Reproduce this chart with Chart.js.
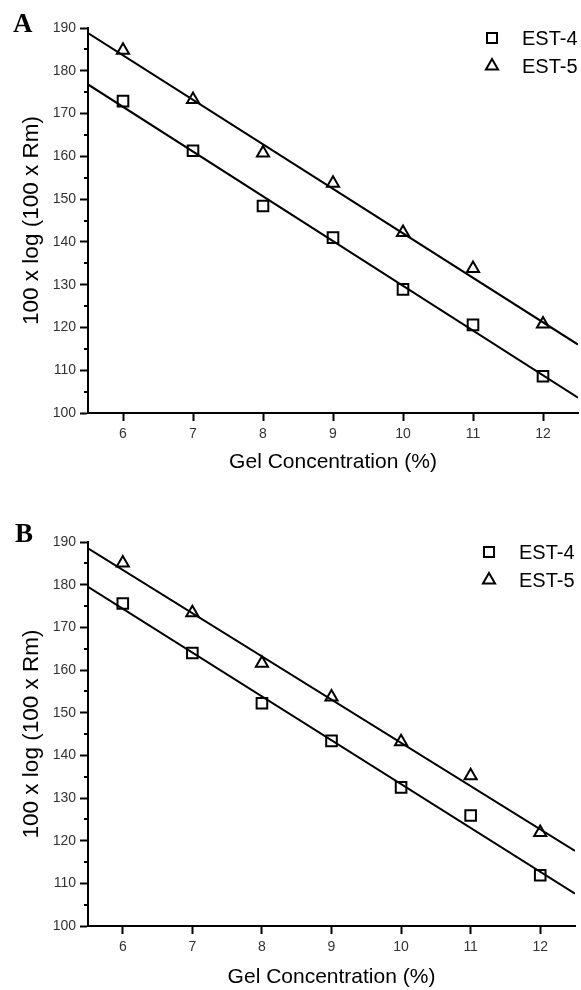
<!DOCTYPE html>
<html>
<head>
<meta charset="utf-8">
<script src="https://cdn.jsdelivr.net/npm/chart.js@4.4.1/dist/chart.umd.min.js"></script>
<style>
    html, body { margin: 0; background: #fff; overflow: hidden; }
    .panel { position: absolute; left: 0; width: 581px; }
    canvas { display: block; }
</style>
</head>
<body>
<div class="panel" style="top:0;height:490px"><canvas id="chartA"></canvas></div>
<div class="panel" style="top:490px;height:500px"><canvas id="chartB"></canvas></div>
<script>
// Data

let gelConc = [6, 7, 8, 9, 10, 11, 12];

let est4A = [172.9, 161.3, 148.4, 141.0, 128.9, 120.6, 108.6];
let est5A = [184.8, 173.3, 160.8, 153.7, 142.2, 133.8, 120.8];

let est4B = [175.6, 164.0, 152.2, 143.4, 132.5, 125.9, 111.9];
let est5B = [185.1, 173.4, 161.6, 153.7, 143.2, 135.2, 121.9];

// fitted lines, read at both ends of the x axis
let fitX = [5.5, 12.5];
let fit4A = [176.8, 103.6];
let fit5A = [188.8, 116.0];
let fit4B = [179.5, 107.6];
let fit5B = [188.5, 117.6];

let xTicks = [6, 7, 8, 9, 10, 11, 12];
let yMinorTicks = [105, 115, 125, 135, 145, 155, 165, 175, 185];

const sansFont = '"Liberation Sans", Arial, sans-serif';

function toPoints(xs, ys) {
    return xs.map((x, i) => ({ x: x, y: ys[i] }));
}

// minor ticks, panel letter and legend
const panelExtras = {
    id: 'panelExtras',
    afterDraw(chart, args, opts) {
        const { ctx, chartArea, scales } = chart;
        ctx.save();
        ctx.strokeStyle = '#000';
        ctx.lineWidth = 2;
        yMinorTicks.forEach(v => {
            let y = Math.round(scales.y.getPixelForValue(v));
            ctx.beginPath();
            ctx.moveTo(chartArea.left - 4, y);
            ctx.lineTo(chartArea.left, y);
            ctx.stroke();
        });

        ctx.fillStyle = '#000';
        ctx.font = 'bold 27px "Liberation Serif", "Times New Roman", serif';
        ctx.textBaseline = 'alphabetic';
        ctx.fillText(opts.letter, opts.letterX, opts.letterY);

        ctx.font = '20px ' + sansFont;
        ctx.textBaseline = 'middle';
        ctx.lineWidth = 2;
        let lx = chartArea.right - 86;
        let ly = chartArea.top + 10;
        chart.data.datasets.filter(ds => ds.inLegend).forEach((ds, i) => {
            let cy = ly + i * 28;
            ctx.beginPath();
            if (ds.pointStyle === 'rect') {
                ctx.rect(lx - 5, cy - 5, 10, 10);
            } else {
                let r = 7;
                ctx.moveTo(lx, cy - r);
                ctx.lineTo(lx + r * 0.866, cy + r / 2);
                ctx.lineTo(lx - r * 0.866, cy + r / 2);
                ctx.closePath();
            }
            ctx.stroke();
            ctx.fillText(ds.label, lx + 30, cy + 1);
        });
        ctx.restore();
    }
};

function makeChart(id, letter, est4, est5, fit4, fit5, layout) {
    let ctx = document.getElementById(id).getContext('2d');
    return new Chart(ctx, {
        type: 'scatter',
        data: {
            datasets: [
                {
                    label: 'EST-4',
                    inLegend: true,
                    data: toPoints(gelConc, est4),
                    pointStyle: 'rect',
                    pointRadius: 7.5,
                    pointBorderWidth: 2,
                    borderColor: '#000',
                    backgroundColor: 'rgba(0,0,0,0)'
                },
                {
                    label: 'EST-5',
                    inLegend: true,
                    data: toPoints(gelConc, est5),
                    pointStyle: 'triangle',
                    pointRadius: 7,
                    pointBorderWidth: 2,
                    borderColor: '#000',
                    backgroundColor: 'rgba(0,0,0,0)'
                },
                {
                    label: 'fit EST-4',
                    data: toPoints(fitX, fit4),
                    showLine: true,
                    borderColor: '#000',
                    borderWidth: 2,
                    pointRadius: 0
                },
                {
                    label: 'fit EST-5',
                    data: toPoints(fitX, fit5),
                    showLine: true,
                    borderColor: '#000',
                    borderWidth: 2,
                    pointRadius: 0
                }
            ]
        },
        options: {
            responsive: true,
            maintainAspectRatio: false,
            animation: false,
            layout: {
                autoPadding: false,
                padding: { top: layout.top, right: layout.right, left: 0, bottom: 0 }
            },
            scales: {
                x: {
                    type: 'linear',
                    min: 5.5,
                    max: 12.5,
                    afterBuildTicks: s => { s.ticks = xTicks.map(v => ({ value: v })); },
                    afterFit: s => {
                        s.height = layout.xHeight;
                        s.paddingLeft = 0;
                        s.paddingRight = 0;
                    },
                    ticks: {
                        padding: 5,
                        color: '#333',
                        font: { family: sansFont, size: 14 }
                    },
                    grid: { drawOnChartArea: false, tickLength: 8, tickWidth: 2, tickColor: '#000' },
                    border: { color: '#000', width: 2 },
                    title: {
                        display: true,
                        text: 'Gel Concentration (%)',
                        color: '#000',
                        font: { family: sansFont, size: 21 },
                        padding: { top: 0, bottom: layout.titleBottom }
                    }
                },
                y: {
                    min: 100,
                    max: 190,
                    afterFit: s => {
                        s.width = 88;
                        s.paddingTop = 0;
                        s.paddingBottom = 0;
                    },
                    ticks: {
                        stepSize: 10,
                        padding: 4,
                        color: '#333',
                        font: { family: sansFont, size: 14 }
                    },
                    grid: { drawOnChartArea: false, tickLength: 8, tickWidth: 2, tickColor: '#000' },
                    border: { color: '#000', width: 2 },
                    title: {
                        display: true,
                        text: '100 x log (100 x Rm)',
                        color: '#000',
                        font: { family: sansFont, size: 22.5 },
                        padding: { top: 18, bottom: 0 }
                    }
                }
            },
            plugins: {
                legend: { display: false },
                tooltip: { enabled: false },
                panelExtras: { letter: letter, letterX: layout.letterX, letterY: layout.letterY }
            }
        },
        plugins: [panelExtras]
    });
}

let chartA = makeChart('chartA', 'A', est4A, est5A, fit4A, fit5A,
    { top: 28, right: 3, xHeight: 77, titleBottom: 15, letterX: 13, letterY: 32 });
let chartB = makeChart('chartB', 'B', est4B, est5B, fit4B, fit5B,
    { top: 52, right: 6, xHeight: 64, titleBottom: 0, letterX: 15, letterY: 52 });
</script>
</body>
</html>
